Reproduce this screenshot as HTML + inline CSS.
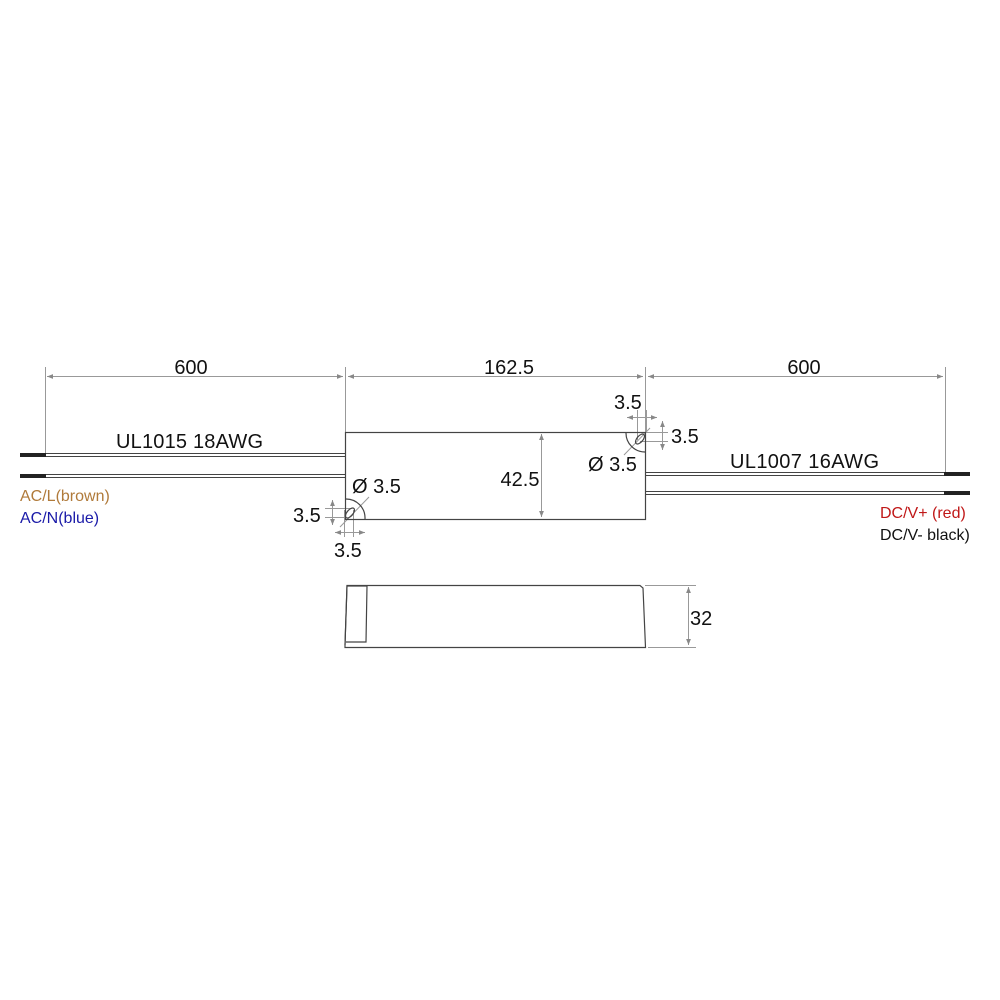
<!DOCTYPE html>
<html><head><meta charset="utf-8"><style>
html,body{margin:0;padding:0;background:#fff;}
svg{display:block;font-family:"Liberation Sans",sans-serif;}
</style></head><body>
<svg width="1000" height="1000" viewBox="0 0 1000 1000" xmlns="http://www.w3.org/2000/svg">
<defs>
<marker id="a" viewBox="0 0 10 10" refX="10" refY="5" markerWidth="9" markerHeight="6" orient="auto-start-reverse" markerUnits="userSpaceOnUse"><path d="M0,1 L10,5 L0,9 z" fill="#888"/></marker>
</defs>
<g stroke="#999" stroke-width="1" fill="none">
<line x1="45.5" y1="367" x2="45.5" y2="455"/>
<line x1="345.5" y1="367" x2="345.5" y2="432"/>
<line x1="645.5" y1="367" x2="645.5" y2="432"/>
<line x1="945.5" y1="367" x2="945.5" y2="474"/>
<line x1="47" y1="376.5" x2="343" y2="376.5" marker-start="url(#a)" marker-end="url(#a)"/>
<line x1="348" y1="376.5" x2="643" y2="376.5" marker-start="url(#a)" marker-end="url(#a)"/>
<line x1="648" y1="376.5" x2="943" y2="376.5" marker-start="url(#a)" marker-end="url(#a)"/>
<line x1="541.5" y1="434" x2="541.5" y2="517" marker-start="url(#a)" marker-end="url(#a)"/>
<line x1="688.5" y1="587" x2="688.5" y2="645" marker-start="url(#a)" marker-end="url(#a)"/>
<line x1="645" y1="585.5" x2="696" y2="585.5"/>
<line x1="648" y1="647.5" x2="696" y2="647.5"/>
<line x1="332.5" y1="500" x2="332.5" y2="525" marker-start="url(#a)" marker-end="url(#a)"/>
<line x1="325" y1="508.5" x2="352" y2="508.5"/>
<line x1="325" y1="517.5" x2="345" y2="517.5"/>
<line x1="335" y1="532.5" x2="365" y2="532.5" marker-start="url(#a)" marker-end="url(#a)"/>
<line x1="344.5" y1="510" x2="344.5" y2="537"/>
<line x1="353.5" y1="510" x2="353.5" y2="537"/>
<line x1="340" y1="527" x2="369" y2="497"/>
<line x1="627" y1="417.5" x2="657" y2="417.5" marker-start="url(#a)" marker-end="url(#a)"/>
<line x1="637.5" y1="410" x2="637.5" y2="440"/>
<line x1="646.5" y1="410" x2="646.5" y2="432"/>
<line x1="662.5" y1="421" x2="662.5" y2="450" marker-start="url(#a)" marker-end="url(#a)"/>
<line x1="646" y1="432.5" x2="668" y2="432.5"/>
<line x1="640" y1="441.5" x2="668" y2="441.5"/>
<line x1="624" y1="455" x2="650" y2="428"/>
</g>
<g stroke="#444" stroke-width="1" fill="none">
<line x1="45" y1="453.5" x2="345" y2="453.5"/>
<line x1="45" y1="456.5" x2="345" y2="456.5"/>
<line x1="45" y1="474.5" x2="345" y2="474.5"/>
<line x1="45" y1="477.5" x2="345" y2="477.5"/>
<line x1="645" y1="472.5" x2="945" y2="472.5"/>
<line x1="645" y1="475.5" x2="945" y2="475.5"/>
<line x1="645" y1="491.5" x2="945" y2="491.5"/>
<line x1="645" y1="494.5" x2="945" y2="494.5"/>
</g>
<g stroke="#222" stroke-width="4">
<line x1="20" y1="455" x2="46" y2="455"/>
<line x1="20" y1="476" x2="46" y2="476"/>
<line x1="944" y1="474" x2="970" y2="474"/>
<line x1="944" y1="493" x2="970" y2="493"/>
</g>
<g stroke="#444" stroke-width="1.2" fill="none">
<rect x="345.5" y="432.5" width="300" height="87"/>
<path d="M345.5,499 A19,19 0 0 1 365,519"/>
<path d="M626,432.5 A19,19 0 0 0 645.5,452"/>
<ellipse cx="350" cy="513" rx="3" ry="6" transform="rotate(40 350 513)"/>
<ellipse cx="640" cy="439" rx="3" ry="6" transform="rotate(40 640 439)"/>
<path d="M347,585.5 L640,585.5 L643,588 L645.5,647.5 L345,647.5 L345,645 Z"/>
<path d="M347,585.5 L345,645 M347,586 L367,586 L366,642 L346,642"/>
</g>
<g font-size="20" fill="#111">
<text x="191" y="374" text-anchor="middle">600</text>
<text x="509" y="374" text-anchor="middle">162.5</text>
<text x="804" y="374" text-anchor="middle">600</text>
<text x="116" y="448" textLength="147">UL1015 18AWG</text>
<text x="730" y="468" textLength="149">UL1007 16AWG</text>
<text x="520" y="486" text-anchor="middle">42.5</text>
<text x="690" y="625">32</text>
<text x="352" y="493">Ø 3.5</text>
<text x="293" y="522">3.5</text>
<text x="334" y="557">3.5</text>
<text x="614" y="409">3.5</text>
<text x="671" y="443">3.5</text>
<text x="588" y="471">Ø 3.5</text>
</g>
<g font-size="16">
<text x="20" y="501" fill="#b07a3a">AC/L(brown)</text>
<text x="20" y="523" fill="#1a1aa8">AC/N(blue)</text>
<text x="880" y="518" fill="#c01818">DC/V+ (red)</text>
<text x="880" y="540" fill="#111">DC/V- black)</text>
</g>
</svg>
</body></html>
